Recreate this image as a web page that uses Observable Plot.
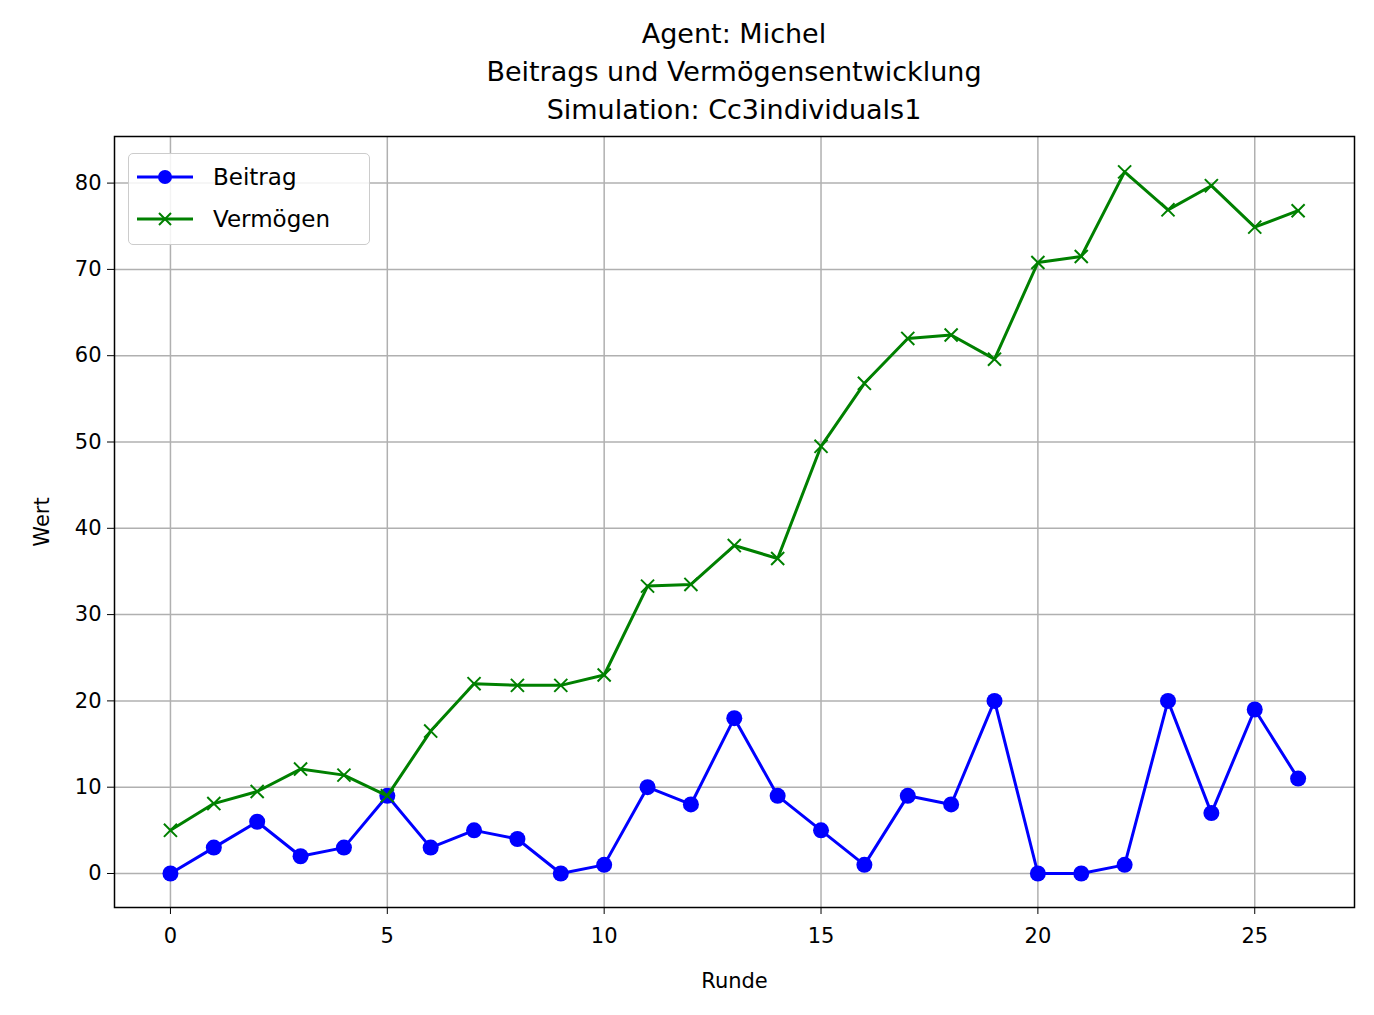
<!DOCTYPE html>
<html><head><meta charset="utf-8">
<script src="https://cdn.jsdelivr.net/npm/d3@7"></script>
<script src="https://cdn.jsdelivr.net/npm/@observablehq/plot@0.6"></script>
<style>
body{margin:0;background:#fff;font-family:"DejaVu Sans",sans-serif;}
#title{height:130px;box-sizing:border-box;padding-top:15px;text-align:center;font-size:27px;line-height:38px;width:1468px;}
#wrap{position:relative;width:1374px;}
#legend{position:absolute;left:128px;top:23px;width:240px;height:90px;border:1.5px solid #ccc;border-radius:5px;background:rgba(255,255,255,0.85);font-size:23px;}
#legend div{display:flex;align-items:center;height:42px;padding-left:8px;}
#legend svg{margin-right:20px;}
</style></head><body>
<div id="title">Agent: Michel<br>Beitrags und Vermögensentwicklung<br>Simulation: Cc3individuals1</div>
<div id="wrap"><div id="chart"></div>
<div id="legend">
<div style="margin-top:2px"><svg width="56" height="20"><line x1="0" y1="10" x2="56" y2="10" stroke="blue" stroke-width="3"/><circle cx="28" cy="10" r="7" fill="blue"/></svg>Beitrag</div>
<div><svg width="56" height="20"><line x1="0" y1="10" x2="56" y2="10" stroke="green" stroke-width="3"/><path d="M22,4L34,16M34,4L22,16" stroke="green" stroke-width="2"/></svg>Vermögen</div>
</div></div>
<script>
const runden = d3.range(27);
const beitrag = [0,3,6,2,3,9,3,5,4,0,1,10,8,18,9,5,1,9,8,20,0,0,1,20,7,19,11];
const vermoegen = [5.0,8.1,9.5,12.1,11.4,9.0,16.5,22.0,21.8,21.8,23.0,33.3,33.5,38.0,36.5,49.5,56.8,62.0,62.4,59.6,70.8,71.5,81.3,76.9,79.7,74.9,76.8];

const b = runden.map((r,i)=>({x:r,y:beitrag[i]}));
const v = runden.map((r,i)=>({x:r,y:vermoegen[i]}));

const chart = Plot.plot({
  width: 1374, height: 885,
  marginTop: 6, marginBottom: 108, marginLeft: 114, marginRight: 20,
  style: {fontSize: "21px", fontFamily: "DejaVu Sans, sans-serif", color: "black", background: "white"},
  x: {domain: [-1.29, 27.3], ticks: [0,5,10,15,20,25], tickSize: 7, tickPadding: 14, label: "Runde", labelAnchor: "center", labelArrow: "none", labelOffset: 80},
  y: {domain: [-3.94, 85.4], ticks: [0,10,20,30,40,50,60,70,80], tickSize: 7, tickPadding: 6, label: "Wert", labelAnchor: "center", labelArrow: "none", labelOffset: 80},
  marks: [
    Plot.gridX([0,5,10,15,20,25], {stroke: "#b0b0b0", strokeOpacity: 1, strokeWidth: 1.5}),
    Plot.gridY([0,10,20,30,40,50,60,70,80], {stroke: "#b0b0b0", strokeOpacity: 1, strokeWidth: 1.5}),
    Plot.line(b, {x: "x", y: "y", stroke: "blue", strokeWidth: 3}),
    Plot.dot(b, {x: "x", y: "y", fill: "blue", r: 8}),
    Plot.line(v, {x: "x", y: "y", stroke: "green", strokeWidth: 3}),
    Plot.dot(v, {x: "x", y: "y", symbol: "times", stroke: "green", strokeWidth: 2, r: 6}),
    Plot.frame({stroke: "black", strokeWidth: 1.5})
  ]
});
document.getElementById("chart").append(chart);
</script>
</body></html>
